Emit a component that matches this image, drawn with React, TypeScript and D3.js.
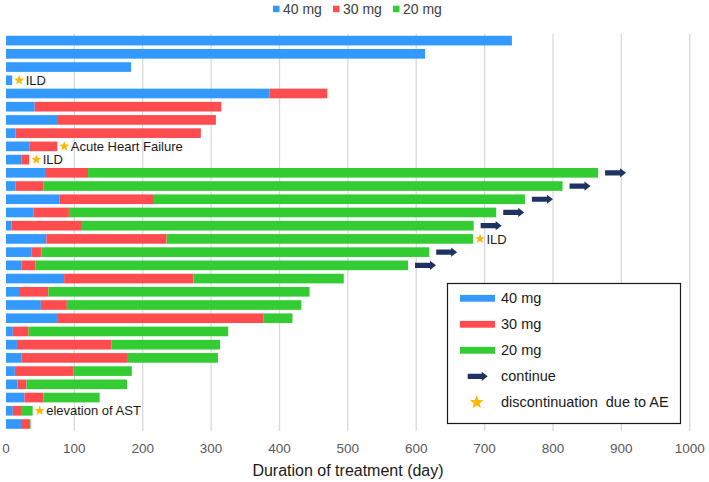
import React from "react";
import * as d3 from "d3";

const W = 709;
const H = 482;

// Durations (days) at each dose, per patient, top to bottom
const dose40 = [740, 613, 183, 9, 385, 42, 76, 14, 34, 23, 57, 14, 78, 40, 8, 59, 37, 23, 85, 19, 51, 76, 10, 16, 23, 13, 17, 27, 10, 22];
const dose30 = [0, 0, 0, 0, 85, 273, 231, 271, 41, 11, 63, 41, 137, 52, 103, 176, 15, 20, 189, 43, 38, 301, 23, 138, 154, 86, 13, 28, 12, 13];
const dose20 = [0, 0, 0, 0, 0, 0, 0, 0, 0, 0, 746, 759, 544, 625, 573, 448, 567, 545, 220, 382, 343, 42, 292, 159, 133, 85, 147, 82, 17, 1];
const continuing = [false, false, false, false, false, false, false, false, false, false, true, true, true, true, true, false, true, true, false, false, false, false, false, false, false, false, false, false, false, false];
const aeLabels = ["", "", "", "ILD", "", "", "", "", "Acute Heart Failure", "ILD", "", "", "", "", "", "ILD", "", "", "", "", "", "", "", "", "", "", "", "", "elevation of AST", ""];

const doseKeys = ["40 mg", "30 mg", "20 mg"];
const doseColors = ["#3399FF", "#FF4D4F", "#33CC33"];
const xTicks = [0, 100, 200, 300, 400, 500, 600, 700, 800, 900, 1000];

const FONT = "Liberation Sans, Arial, sans-serif";

function starPath(cx: number, cy: number, r: number) {
  const pts: string[] = [];
  for (let i = 0; i < 10; i++) {
    const rr = i % 2 === 0 ? r : r * 0.42;
    const a = -Math.PI / 2 + (i * Math.PI) / 5;
    pts.push(`${cx + rr * Math.cos(a)},${cy + rr * Math.sin(a)}`);
  }
  return "M" + pts.join("L") + "Z";
}

function arrowPath(x0: number, cy: number, len: number) {
  const shaft = 2.6;
  const head = 4.6;
  const hl = 6;
  const x1 = x0 + len - hl;
  const x2 = x0 + len;
  return `M${x0},${cy - shaft}L${x1},${cy - shaft}L${x1},${cy - head}L${x2},${cy}L${x1},${cy + head}L${x1},${cy + shaft}L${x0},${cy + shaft}Z`;
}

export default function App() {
  const rows = dose40.map((_, i) => i);
  const x = d3.scaleLinear().domain([0, 1000]).range([6, 689.7]);
  const y = d3.scaleBand<number>().domain(rows).range([34, 430.6]).paddingInner(0.27).paddingOuter(0.135);

  const table = rows.map((i) => ({ "40 mg": dose40[i], "30 mg": dose30[i], "20 mg": dose20[i], idx: i }));
  const stack = d3.stack<any>().keys(doseKeys);
  const series = stack(table);

  const bh = y.bandwidth();

  return (
    <svg width={W} height={H} style={{ position: "absolute", left: 0, top: 0, background: "#fff" }} fontFamily={FONT}>
      <rect x={0} y={0} width={W} height={H} fill="#fff" />
      {/* gridlines */}
      {xTicks.filter((t) => t > 0).map((t) => (
        <line key={t} x1={x(t)} x2={x(t)} y1={34} y2={431} stroke="#D9D9D9" strokeWidth={1.3} />
      ))}
      {/* bars */}
      {series.map((s, si) => (
        <g key={s.key}>
          {s.map((d, i) => {
            const w = x(d[1]) - x(d[0]);
            if (w <= 0) return null;
            return (
              <rect
                key={i}
                x={x(d[0])}
                y={y(i)!}
                width={w}
                height={bh}
                fill={doseColors[si]}
              />
            );
          })}
        </g>
      ))}
      {/* continue arrows */}
      {rows.map((i) => {
        if (!continuing[i]) return null;
        const end = x(dose40[i] + dose30[i] + dose20[i]);
        const cy = y(i)! + bh / 2;
        return <path key={"a" + i} d={arrowPath(end + 7, cy, 21)} fill="#1F3361" />;
      })}
      {/* AE markers */}
      {rows.map((i) => {
        if (!aeLabels[i]) return null;
        const end = x(dose40[i] + dose30[i] + dose20[i]);
        const cy = y(i)! + bh / 2;
        return (
          <g key={"s" + i}>
            <path d={starPath(end + 7, cy, 5.2)} fill="#FFB700" />
            <text x={end + 13.5} y={cy + 4.6} fontSize={13} fill="#1a1a1a">
              {aeLabels[i]}
            </text>
          </g>
        );
      })}
      {/* x tick labels */}
      {xTicks.map((t) => (
        <text key={"t" + t} x={x(t)} y={453} fontSize={13.5} fill="#595959" textAnchor="middle">
          {t}
        </text>
      ))}
      <text x={348} y={476} fontSize={16} fill="#1a1a1a" textAnchor="middle">
        Duration of treatment (day)
      </text>
      {/* top legend */}
      {doseKeys.map((k, i) => {
        const lx = [273, 333, 393][i];
        return (
          <g key={"tl" + k}>
            <rect x={lx} y={5.7} width={6.5} height={6.5} fill={doseColors[i]} />
            <text x={lx + 10} y={13.8} fontSize={14} fill="#404040">
              {k}
            </text>
          </g>
        );
      })}
      {/* legend box */}
      <rect x={447.5} y={283.5} width={233} height={140} fill="#fff" stroke="#1a1a1a" strokeWidth={1.2} />
      {doseKeys.map((k, i) => {
        const cy = 298.3 + i * 26;
        return (
          <g key={"lg" + k}>
            <rect x={460} y={cy - 3.4} width={35} height={6.8} fill={doseColors[i]} />
            <text x={501} y={cy + 5} fontSize={14.5} fill="#1a1a1a">
              {k}
            </text>
          </g>
        );
      })}
      <path d={arrowPath(467.7, 376.3, 20)} fill="#1F3361" />
      <text x={501} y={381.3} fontSize={14.5} fill="#1a1a1a">
        continue
      </text>
      <path d={starPath(476.7, 402.5, 7.2)} fill="#FFB700" />
      <text x={501} y={407.3} fontSize={14.5} fill="#1a1a1a" style={{ whiteSpace: "pre" }}>
        {"discontinuation  due to AE"}
      </text>
    </svg>
  );
}
